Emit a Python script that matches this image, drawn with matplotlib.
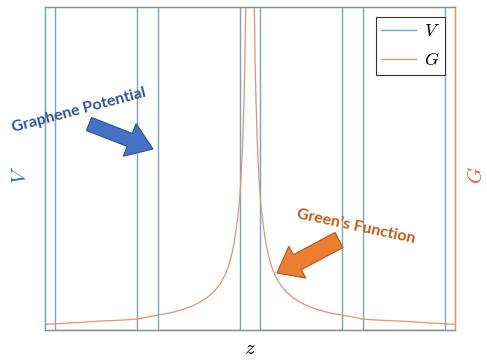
import matplotlib
matplotlib.use("Agg")
import matplotlib.pyplot as plt
from matplotlib.patches import FancyArrow
from matplotlib.transforms import IdentityTransform

plt.rcParams["mathtext.fontset"] = "cm"

# periodic barrier potential: edges of each interval and the level on it
v_edges = [-2.0, -1.9, -1.1, -0.9, -0.1, 0.1, 0.9, 1.1, 1.9, 2.0]
v_levels = [1, 0, 1, 0, 1, 0, 1, 0, 1]

# Green's function sampled along z (sharp peak at the origin)
z_g = [-2.0, -1.76, -1.46, -1.25, -1.10, -0.976, -0.78, -0.65, -0.57, -0.488,
       -0.42, -0.35, -0.293, -0.244, -0.21, -0.18, -0.155, -0.135, -0.118,
       -0.104, -0.09, -0.078, -0.068, -0.058, -0.05, -0.042, 0.0,
       0.042, 0.05, 0.058, 0.068, 0.078, 0.09, 0.104, 0.118, 0.135, 0.155,
       0.18, 0.21, 0.244, 0.293, 0.35, 0.42, 0.488, 0.57, 0.65, 0.78,
       0.976, 1.10, 1.25, 1.46, 1.76, 2.0]
g_vals = [0.43, 0.54, 0.69, 0.76, 0.84, 1.04, 1.31, 1.59, 1.82, 2.14,
          2.48, 2.97, 3.52, 4.22, 4.9, 5.75, 6.7, 7.7, 8.8,
          9.8, 11.4, 13.2, 15.2, 17.8, 20.6, 24.8, 45.0,
          24.8, 20.6, 17.8, 15.2, 13.2, 11.4, 9.8, 8.8, 7.7, 6.7,
          5.75, 4.9, 4.22, 3.52, 2.97, 2.48, 2.14, 1.82, 1.59, 1.31,
          1.04, 0.84, 0.76, 0.69, 0.54, 0.43]

blue = "#6ea7cc"
orange = "#e3936c"

fig = plt.figure(figsize=(4.87, 3.62), dpi=100)
ax = fig.add_axes([45 / 487, 32 / 362, 410 / 487, 323 / 362])
ax2 = ax.twinx()

lv = ax.stairs(v_levels, v_edges, baseline=None, color=blue, lw=1.0, label="$V$")
lg, = ax2.plot(z_g, g_vals, color=orange, lw=0.9, label="$G$")

ax.set_xlim(-2, 2)
ax.set_ylim(0, 0.6)
ax2.set_ylim(0, 24.85)
for a in (ax, ax2):
    a.set_xticks([])
    a.set_yticks([])
    for s in a.spines.values():
        s.set_linewidth(0.9)
        s.set_color("#8c8c8c")
ax2.spines["left"].set_color(blue)
ax2.spines["right"].set_color(orange)
ax.spines["left"].set_color(blue)
ax.spines["right"].set_color(orange)

ax.set_xlabel("$z$", fontsize=15, labelpad=6)
ax.set_ylabel("$V$", fontsize=15, color="#1f78b8")
ax.yaxis.set_label_coords(-0.036, 0.48)
ax2.set_ylabel("$G$", fontsize=15, color="#e0662a")
ax2.yaxis.set_label_coords(1.028, 0.48)

leg = ax2.legend([lv, lg], ["$V$", "$G$"], loc="upper right", fontsize=13,
                 fancybox=False, edgecolor="#333333", framealpha=1,
                 borderaxespad=0.55, borderpad=0.3, labelspacing=0.6,
                 handlelength=1.9, handletextpad=0.45)
leg.get_frame().set_linewidth(0.8)

H = 362
# callout arrows, drawn in pixel coordinates
fig.add_artist(FancyArrow(89, H - 124, 64, -25, width=14, head_width=35,
                          head_length=25, length_includes_head=True,
                          transform=IdentityTransform(),
                          facecolor="#4472c4", edgecolor="#2f528f", lw=0.8))
fig.add_artist(FancyArrow(339, H - 240, -62, -33, width=17, head_width=36,
                          head_length=23, length_includes_head=True,
                          transform=IdentityTransform(),
                          facecolor="#ed7d31", edgecolor="#ae5a21", lw=0.8))

fig.text(79 / 487, 1 - 110 / 362, "Graphene Potential", rotation=15,
         ha="center", va="center", fontsize=11.5, fontweight="bold",
         family="Lato", color="#2f5597")
fig.text(356 / 487, 1 - 227 / 362, "Green\u2019s Function", rotation=-12,
         ha="center", va="center", fontsize=11.5, fontweight="bold",
         family="Lato", color="#c55a11")

fig.savefig("out.png", dpi=100)
